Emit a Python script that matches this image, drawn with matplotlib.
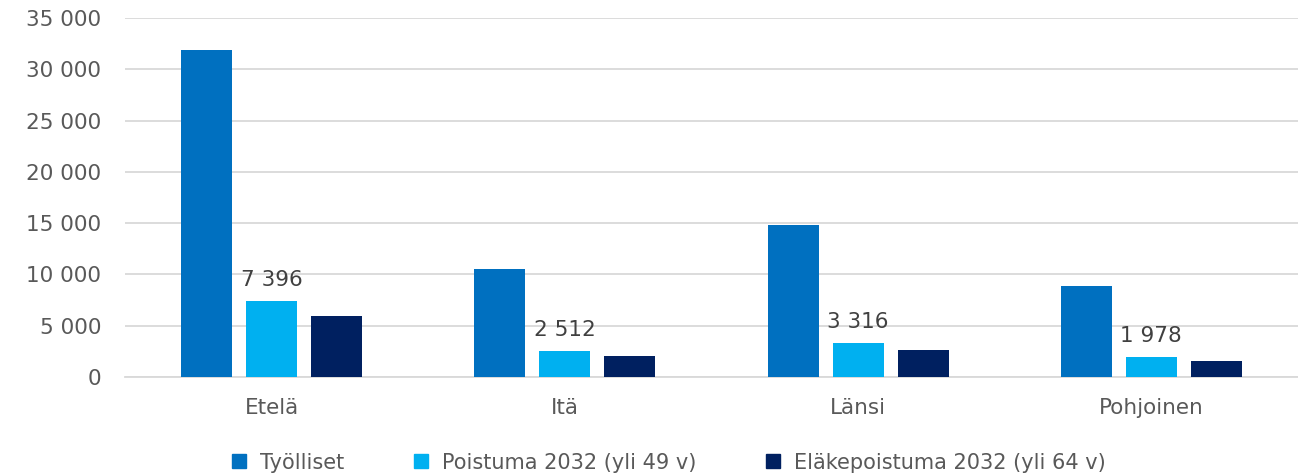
import numpy as np
import matplotlib
matplotlib.use("Agg")
import matplotlib.pyplot as plt
from matplotlib.lines import Line2D
from matplotlib.ticker import FuncFormatter

alueet = ["Etelä", "Itä", "Länsi", "Pohjoinen"]
sarjat = ["Työlliset", "Poistuma 2032 (yli 49 v)", "Eläkepoistuma 2032 (yli 64 v)"]
tyolliset = [31900, 10550, 14820, 8870]
poistuma = [7396, 2512, 3316, 1978]
elakepoistuma = [5950, 2050, 2650, 1600]
varit = ["#0070C0", "#00B0F0", "#002060"]

plt.rcParams['font.family'] = ['DejaVu Sans']

fig = plt.figure(figsize=(12.98, 4.74), dpi=100)
ax = fig.add_axes([0.0963, 0.2046, 0.9037, 0.7574])

x = np.arange(len(alueet))
leveys = 0.174
askel = 0.222
arvot = [tyolliset, poistuma, elakepoistuma]
palkit = []
for i, (vals, c) in enumerate(zip(arvot, varit)):
    b = ax.bar(x + (i - 1) * askel, vals, leveys, color=c, zorder=3)
    palkit.append(b)

# arvot vain poistumasarjalle
for rect, v in zip(palkit[1], poistuma):
    ax.annotate(f"{v:,}".replace(",", " "),
                (rect.get_x() + rect.get_width() / 2, rect.get_height()),
                xytext=(0, 8), textcoords="offset points",
                ha="center", va="bottom", fontsize=15.5, color="#404040")

ax.set_xlim(-0.5, 3.5)
ax.set_ylim(0, 35000)
ax.set_yticks(np.arange(0, 35001, 5000))
ax.yaxis.set_major_formatter(FuncFormatter(lambda v, p: f"{int(v):,}".replace(",", " ")))
ax.set_xticks(x)
ax.set_xticklabels(alueet)
ax.tick_params(axis="y", length=0, pad=17, labelsize=15.5, labelcolor="#595959")
ax.tick_params(axis="x", length=0, pad=15, labelsize=15.5, labelcolor="#595959")
ax.grid(axis="y", color="#D9D9D9", linewidth=1.3, zorder=0)
for s in ["top", "right", "left"]:
    ax.spines[s].set_visible(False)
ax.spines["bottom"].set_color("#D9D9D9")
ax.spines["bottom"].set_linewidth(1.3)

kahvat = [Line2D([], [], marker="s", linestyle="", markersize=10, color=c) for c in varit]
fig.legend(kahvat, sarjat, loc="lower center", bbox_to_anchor=(0.510, -0.037), ncol=3,
           frameon=False, handletextpad=0.0, columnspacing=2.7,
           prop={"size": 15}, labelcolor="#595959")

fig.savefig("out.png", dpi=100)
